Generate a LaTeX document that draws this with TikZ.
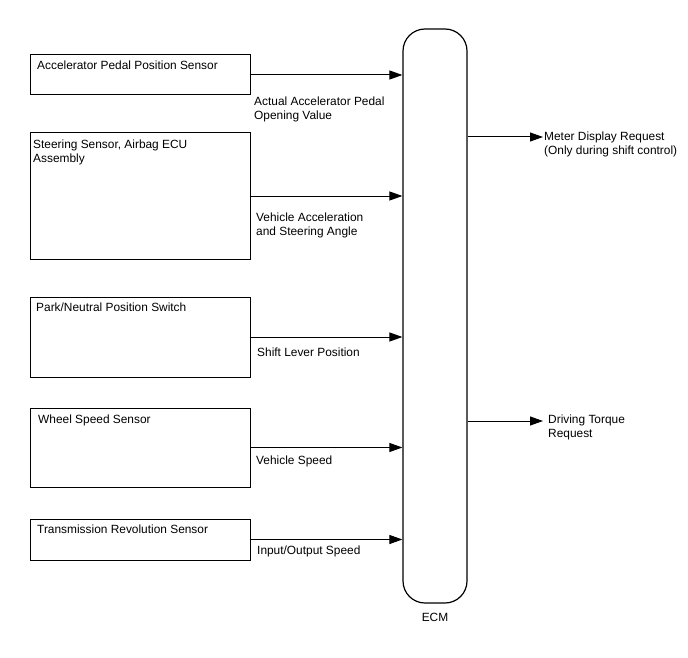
\documentclass[tikz,border=0pt]{standalone}
\usepackage{fontspec}
\setmainfont{Liberation Sans}
\usetikzlibrary{arrows.meta}
\tikzset{
  sensor/.style={draw, line width=1pt, minimum width=220pt, inner sep=0pt},
  sig/.style={line width=1pt, -{Triangle[length=13pt,width=9pt]}},
  txt/.style={anchor=north west, align=left, inner sep=0pt, font=\fontsize{11.9}{14}\selectfont}
}
\begin{document}
\begin{tikzpicture}[x=1pt,y=-1pt]
\useasboundingbox (0,0) rectangle (688,658);

\node[draw, rounded corners=22pt, line width=1.2pt, minimum width=64pt, minimum height=574pt] (ecm) at (435,316) {};
\node[txt, anchor=center] (ecmname) at (435,617) {ECM};

\node[sensor, minimum height=40pt] (apps) at (140,75) {};
\node[sensor, minimum height=126pt] (steer) at (140,196) {};
\node[sensor, minimum height=80pt] (pnp) at (140,337) {};
\node[sensor, minimum height=79pt] (wheel) at (140,447.5) {};
\node[sensor, minimum height=41pt] (trans) at (140,539.5) {};

\node[txt] (appsname) at (37,61) {Accelerator Pedal Position Sensor};
\node[txt] (steername) at (33,140) {Steering Sensor, Airbag ECU\\Assembly};
\node[txt] (pnpname) at (36,303) {Park/Neutral Position Switch};
\node[txt] (wheelname) at (38,415) {Wheel Speed Sensor};
\node[txt] (transname) at (37,525) {Transmission Revolution Sensor};

\draw[sig] (apps.east) -- (apps.east -| ecm.west);
\draw[sig] (steer.east) -- (steer.east -| ecm.west);
\draw[sig] (pnp.east) -- (pnp.east -| ecm.west);
\draw[sig] (wheel.east) -- (wheel.east -| ecm.west);
\draw[sig] (trans.east) -- (trans.east -| ecm.west);

\node[txt] (appssig) at (254,97) {Actual Accelerator Pedal\\Opening Value};
\node[txt] (steersig) at (256,213) {Vehicle Acceleration\\and Steering Angle};
\node[txt] (pnpsig) at (257,348) {Shift Lever Position};
\node[txt] (wheelsig) at (256,456) {Vehicle Speed};
\node[txt] (transsig) at (257,546) {Input/Output Speed};

\coordinate (meter) at (543,137);
\coordinate (torque) at (543,421);
\draw[sig] (meter -| ecm.east) -- (meter);
\draw[sig] (torque -| ecm.east) -- (torque);

\node[txt] (metername) at (544,132) {Meter Display Request\\(Only during shift control)};
\node[txt] (torquename) at (548,415) {Driving Torque\\Request};
\end{tikzpicture}
\end{document}
